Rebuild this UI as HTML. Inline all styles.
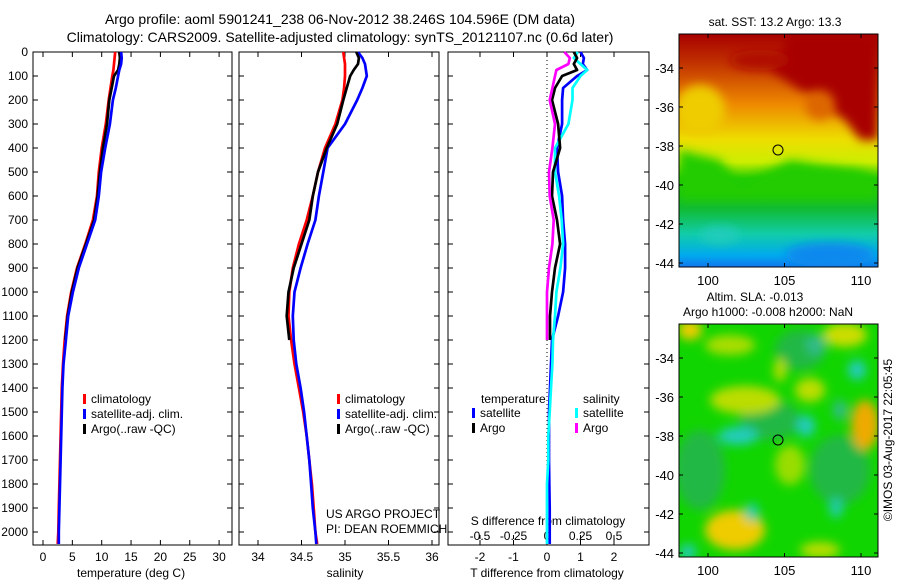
<!DOCTYPE html>
<html><head><meta charset="utf-8"><style>
body{margin:0;background:#fff;}
svg text{font-family:"Liberation Sans",sans-serif;fill:#000;}
</style></head><body>
<svg id="fig" width="900" height="580" viewBox="0 0 900 580" xmlns="http://www.w3.org/2000/svg">
<defs>
<linearGradient id="sstg" x1="0" y1="0" x2="0" y2="1">
<stop offset="0" stop-color="#a80000"/><stop offset="0.12" stop-color="#c03000"/>
<stop offset="0.3" stop-color="#ee8800"/><stop offset="0.45" stop-color="#eedd00"/>
<stop offset="0.55" stop-color="#ccee00"/><stop offset="0.62" stop-color="#22cc00"/>
<stop offset="0.75" stop-color="#11bb33"/><stop offset="0.86" stop-color="#11ccaa"/>
<stop offset="0.95" stop-color="#00aaee"/><stop offset="1" stop-color="#1177ee"/>
</linearGradient>
<filter id="bl" x="-50%" y="-50%" width="200%" height="200%"><feGaussianBlur stdDeviation="5"/></filter>
<clipPath id="c1"><rect x="679" y="34" width="199" height="233"/></clipPath>
<clipPath id="c2"><rect x="679" y="324" width="199" height="233"/></clipPath>
</defs>
<text x="340" y="24" font-size="14" text-anchor="middle">Argo profile: aoml 5901241_238 06-Nov-2012 38.246S 104.596E (DM data)</text>
<text x="340" y="42" font-size="14" text-anchor="middle">Climatology: CARS2009. Satellite-adjusted climatology: synTS_20121107.nc (0.6d later)</text>

<g id="maps">
<g clip-path="url(#c1)">
<rect x="679" y="34" width="199" height="233" fill="url(#sstg)"/>
<path d="M790 34 L878 34 L878 140 L860 140 L845 120 L830 110 L815 95 L800 90 L785 80 L770 70 Z" fill="#a80000" filter="url(#bl)"/>
<path d="M679 150 L720 160 L740 185 L760 175 L790 160 L820 165 L860 170 L878 180 L878 200 L679 200 Z" fill="#22cc00" filter="url(#bl)"/>
<ellipse cx="700" cy="110" rx="25" ry="25" fill="#eecc00" filter="url(#bl)"/>
<ellipse cx="830" cy="255" rx="45" ry="12" fill="#1188ee" filter="url(#bl)"/>
<ellipse cx="760" cy="60" rx="30" ry="10" fill="#b01000" filter="url(#bl)"/>
<ellipse cx="820" cy="105" rx="15" ry="15" fill="#dd6600" filter="url(#bl)"/>
<ellipse cx="720" cy="235" rx="20" ry="8" fill="#22ccbb" filter="url(#bl)"/>
</g>
<rect x="679" y="34" width="199" height="233" fill="none" stroke="#000"/>
<circle cx="778" cy="150" r="5" fill="none" stroke="#000"/>
<text x="775" y="26" font-size="12" text-anchor="middle">sat. SST: 13.2 Argo: 13.3</text>

<g clip-path="url(#c2)">
<rect x="679" y="324" width="199" height="233" fill="#11d500"/>
<g filter="url(#bl)">
<ellipse cx="700" cy="470" rx="25" ry="40" fill="#22b844"/>
<ellipse cx="770" cy="420" rx="30" ry="20" fill="#22b844"/>
<ellipse cx="840" cy="470" rx="30" ry="35" fill="#22b844"/>
<ellipse cx="800" cy="350" rx="25" ry="20" fill="#22b844"/>
<ellipse cx="730" cy="345" rx="25" ry="10" fill="#aadd00"/>
<ellipse cx="690" cy="330" rx="12" ry="10" fill="#eecc00"/>
<ellipse cx="845" cy="335" rx="22" ry="12" fill="#ccdd00"/>
<ellipse cx="745" cy="400" rx="35" ry="14" fill="#bbdd00"/>
<ellipse cx="810" cy="390" rx="15" ry="12" fill="#bbdd00"/>
<ellipse cx="865" cy="425" rx="14" ry="25" fill="#eeaa00"/>
<ellipse cx="780" cy="370" rx="6" ry="12" fill="#bbdd00"/>
<ellipse cx="735" cy="530" rx="30" ry="20" fill="#eecc00"/>
<ellipse cx="790" cy="465" rx="15" ry="20" fill="#99dd00"/>
<ellipse cx="820" cy="550" rx="20" ry="8" fill="#bbdd00"/>
<ellipse cx="738" cy="436" rx="20" ry="9" fill="#22ccbb"/>
<ellipse cx="806" cy="426" rx="9" ry="11" fill="#22ccbb"/>
<ellipse cx="857" cy="370" rx="9" ry="10" fill="#22ccbb"/>
<ellipse cx="816" cy="345" rx="10" ry="10" fill="#33bb88"/>
<ellipse cx="840" cy="410" rx="7" ry="10" fill="#33bb88"/>
<ellipse cx="836" cy="508" rx="7" ry="10" fill="#22ccaa"/>
<ellipse cx="752" cy="512" rx="7" ry="9" fill="#22ccaa"/>
<ellipse cx="688" cy="552" rx="8" ry="8" fill="#22ccbb"/>
</g>
</g>
<rect x="679" y="324" width="199" height="233" fill="none" stroke="#000"/>
<circle cx="778" cy="440" r="5" fill="none" stroke="#000"/>
<text x="755" y="301" font-size="12" text-anchor="middle">Altim. SLA: -0.013</text>
<text x="768" y="316" font-size="12" text-anchor="middle">Argo h1000: -0.008 h2000: NaN</text>
<text x="0" y="0" font-size="12" text-anchor="middle" transform="translate(892,440) rotate(-90)">©IMOS 03-Aug-2017 22:05:45</text>
</g>
<g id="plots"></g>
</svg>
<script>
const depths=[0,25,50,75,100,150,200,300,400,500,600,700,800,900,1000,1100,1200,1300,1400,1500,1600,1700,1800,1900,2000,2050];
const tempClim=[12.3,12.2,12.1,12.0,11.8,11.5,11.2,10.7,10.0,9.5,9.2,8.5,7.2,5.8,4.8,4.1,3.7,3.4,3.2,3.1,3.0,2.9,2.8,2.7,2.6,2.5];
const tempSat=[13.3,13.4,13.3,13.0,12.8,12.4,11.9,11.4,10.6,9.9,9.5,8.9,7.5,6.1,5.1,4.3,3.9,3.5,3.3,3.2,3.1,3.0,2.9,2.8,2.7,2.7];
const argoDepths=[0,25,50,75,100,150,200,300,400,500,600,700,800,900,1000,1100,1200];
const tempArgo=[13.0,13.1,13.0,12.8,12.1,11.7,11.3,10.9,10.2,9.7,9.3,8.7,7.3,5.9,4.9,4.2,3.8];
const salClim=[34.98,34.99,35.0,35.0,35.0,34.99,34.97,34.89,34.77,34.69,34.63,34.56,34.47,34.40,34.36,34.35,34.38,34.42,34.47,34.52,34.56,34.59,34.62,34.64,34.66,34.68];
const salSat=[35.15,35.2,35.23,35.24,35.25,35.2,35.14,35.0,34.8,34.75,34.70,34.66,34.57,34.49,34.42,34.40,34.41,34.44,34.49,34.53,34.56,34.59,34.61,34.63,34.66,34.67];
const salArgo=[35.13,35.16,35.15,35.1,35.06,35.02,34.98,34.91,34.79,34.69,34.63,34.59,34.50,34.41,34.35,34.33,34.36];
const tDiffSat=[1.0,1.1,1.07,1.2,0.9,0.48,0.45,0.45,0.3,0.33,0.45,0.48,0.54,0.54,0.48,0.33,0.15,0.12,0.09,0.06,0.06,0.06,0.07,0.08,0.08,0.08];
const tDiffArgo=[0.8,0.9,0.8,0.9,0.45,0.24,0.15,0.33,0.39,0.18,0.15,0.3,0.39,0.24,0.15,0.09,0.09];
const sDiffSat=[0.23,0.2,0.25,0.3,0.25,0.19,0.19,0.16,0.06,0.06,0.09,0.11,0.12,0.1,0.07,0.06,0.045,0.04,0.03,0.02,0.01,0.01,0.0,0.0,0.0,0.0];
const sDiffArgo=[0.13,0.17,0.16,0.07,0.06,0.04,0.02,0.06,0.04,0.015,0.02,0.05,0.04,0.015,0.0,0.0,0.0];
const depthTicks=[0,100,200,300,400,500,600,700,800,900,1000,1100,1200,1300,1400,1500,1600,1700,1800,1900,2000];
const tempTicks=[0,5,10,15,20,25,30];
const salTicks=[34,34.5,35,35.5,36];
const tdTicks=[-2,-1,0,1,2];
const sdTicks=[-0.5,-0.25,0,0.25,0.5];
const mapLonTicks=[100,105,110];
const mapLatTicks=[-34,-36,-38,-40,-42,-44];

const NS='http://www.w3.org/2000/svg';
const root=document.getElementById('plots');
function el(tag,attrs,parent,txt){const e=document.createElementNS(NS,tag);for(const k in attrs)e.setAttribute(k,attrs[k]);if(txt!==undefined)e.textContent=txt;(parent||root).appendChild(e);return e;}
const yD=d=>52+d*0.24;
const TOP=52,BOT=545;
const xT=v=>43+v*5.87;
const xS=v=>258+(v-34)*87;
const xTD=v=>547+v*33.5;
const xSD=v=>547+v*134;

function panel(name,x0,x1){
  const g=el('g',{});
  
  
  el('rect',{x:x0,y:TOP,width:x1-x0,height:BOT-TOP,fill:'none',stroke:'#000','stroke-width':1},g);
  depthTicks.forEach(d=>{
    el('line',{x1:x0,x2:x0+5,y1:yD(d),y2:yD(d),stroke:'#000'},g);
    el('line',{x1:x1-5,x2:x1,y1:yD(d),y2:yD(d),stroke:'#000'},g);
  });
  return g;
}
function xticks(g,ticks,fx,lbl){
  ticks.forEach(t=>{
    const x=fx(t);
    el('line',{x1:x,x2:x,y1:BOT,y2:BOT-5,stroke:'#000'},g);
    el('line',{x1:x,x2:x,y1:TOP,y2:TOP+5,stroke:'#000'},g);
    const tx=el('text',{x:x,y:561,'font-size':12,'text-anchor':'middle'},g,String(t));
    
    
  });
  const at=el('text',{x:(fx(ticks[0])+fx(ticks[ticks.length-1]))/2,y:577,'font-size':12,'text-anchor':'middle'},g,lbl);
  
  
}
function line(g,name,ds,vals,fx,color){
  const pts=ds.map((d,i)=>fx(vals[i]).toFixed(1)+','+yD(d).toFixed(1)).join(' ');
  const p=el('polyline',{points:pts,fill:'none',stroke:color,'stroke-width':2.7,'stroke-linejoin':'round'},g);
  
  
}
function legend(g,x,y,items){
  items.forEach((it,i)=>{
    const r=el('rect',{x:x,y:y+i*15-9,width:3,height:10,fill:it[1]},g);
    
    
    const t=el('text',{x:x+8,y:y+i*15,'font-size':12},g,it[0]);
    
    
  });
}

const p1=panel('temperature-panel',33,232);
depthTicks.forEach(d=>{
  const t=el('text',{x:28,y:yD(d)+4,'font-size':12,'text-anchor':'end'},p1,String(d));
  
  
});
xticks(p1,tempTicks,xT,'temperature (deg C)');
line(p1,'temp-climatology-line',depths,tempClim,xT,'#ff0000');
line(p1,'temp-argo-line',argoDepths,tempArgo,xT,'#000000');
line(p1,'temp-satellite-line',depths,tempSat,xT,'#0000ff');
legend(p1,83,403,[['climatology','#f00'],['satellite-adj. clim.','#00f'],['Argo(..raw -QC)','#000']]);

const p2=panel('salinity-panel',239,439);
xticks(p2,salTicks,xS,'salinity');
line(p2,'sal-climatology-line',depths,salClim,xS,'#ff0000');
line(p2,'sal-satellite-line',depths,salSat,xS,'#0000ff');
line(p2,'sal-argo-line',argoDepths,salArgo,xS,'#000000');
legend(p2,337,403,[['climatology','#f00'],['satellite-adj. clim.','#00f'],['Argo(..raw -QC)','#000']]);
const u1=el('text',{x:326,y:518,'font-size':12},p2,'US ARGO PROJECT');


const u2=el('text',{x:326,y:533,'font-size':12},p2,'PI: DEAN ROEMMICH');



const p3=panel('difference-panel',448,649);
xticks(p3,tdTicks,xTD,'T difference from climatology');
el('line',{x1:547,x2:547,y1:TOP,y2:BOT,stroke:'#000','stroke-dasharray':'1,3'},p3);
sdTicks.forEach(t=>{
  el('line',{x1:xSD(t),x2:xSD(t),y1:BOT-6,y2:BOT-10,stroke:'#000'},p3);
  const tx=el('text',{x:xSD(t),y:540,'font-size':12,'text-anchor':'middle'},p3,String(t));
  
  
});
const sdt=el('text',{x:548,y:525,'font-size':12,'text-anchor':'middle'},p3,'S difference from climatology');


line(p3,'t-diff-satellite-line',depths,tDiffSat,xTD,'#0000ff');
line(p3,'s-diff-satellite-line',depths,sDiffSat,xSD,'#00ffff');
line(p3,'t-diff-argo-line',argoDepths,tDiffArgo,xTD,'#000000');
line(p3,'s-diff-argo-line',argoDepths,sDiffArgo,xSD,'#ff00ff');
const lt=el('text',{x:481,y:403,'font-size':12},p3,'temperature');


const ls=el('text',{x:583,y:403,'font-size':12},p3,'salinity');


legend(p3,472,417,[['satellite','#00f'],['Argo','#000']]);
legend(p3,575,417,[['satellite','#0ff'],['Argo','#f0f']]);

const mx=v=>708+(v-100)*15.3;
[[34,267,68,'sst'],[324,557,358,'sla']].forEach(m=>{
  const g=el('g',{});
  
  
  mapLonTicks.forEach(v=>{
    el('line',{x1:mx(v),x2:mx(v),y1:m[0],y2:m[0]+4,stroke:'#000'},g);
    el('line',{x1:mx(v),x2:mx(v),y1:m[1],y2:m[1]-4,stroke:'#000'},g);
    const t=el('text',{x:mx(v),y:m[1]+18,'font-size':13,'text-anchor':'middle'},g,String(v));
    
    
  });
  mapLatTicks.forEach(v=>{
    const y=m[2]+(-34-v)*19.5;
    el('line',{x1:679,x2:683,y1:y,y2:y,stroke:'#000'},g);
    el('line',{x1:874,x2:878,y1:y,y2:y,stroke:'#000'},g);
    const t=el('text',{x:674,y:y+5,'font-size':13,'text-anchor':'end'},g,String(v));
    
    
  });
});
</script>
</body></html>
